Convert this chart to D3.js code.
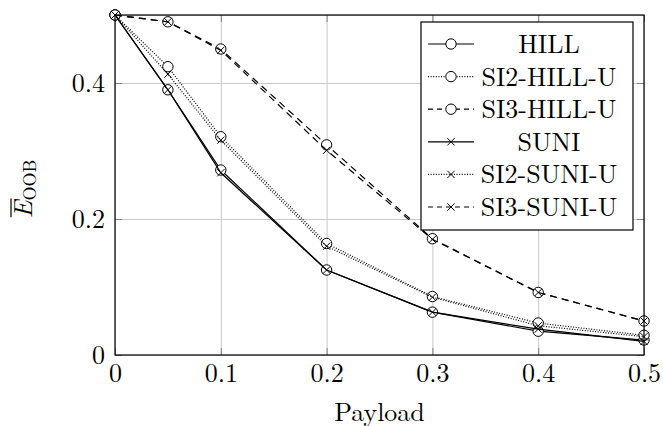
<!DOCTYPE html>
<html>
<head>
<meta charset="utf-8">
<script src="https://cdn.jsdelivr.net/npm/d3@7"></script>
</head>
<body style="margin:0;background:#fff">
<div id="chart"></div>
<script>
// data
var payload = [0, 0.05, 0.1, 0.2, 0.3, 0.4, 0.5];
var hill    = [0.5, 0.390, 0.272, 0.125, 0.063, 0.035, 0.022];
var si2Hill = [0.5, 0.424, 0.321, 0.164, 0.086, 0.047, 0.029];
var si3Hill = [0.5, 0.490, 0.450, 0.309, 0.171, 0.092, 0.050];
var suni    = [0.5, 0.390, 0.268, 0.125, 0.063, 0.038, 0.020];
var si2Suni = [0.5, 0.413, 0.316, 0.160, 0.085, 0.043, 0.027];
var si3Suni = [0.5, 0.490, 0.448, 0.301, 0.170, 0.092, 0.050];
var seriesNames = ['HILL', 'SI2-HILL-U', 'SI3-HILL-U', 'SUNI', 'SI2-SUNI-U', 'SI3-SUNI-U'];
var xTicks = [0, 0.1, 0.2, 0.3, 0.4, 0.5];
var yTicks = [0, 0.2, 0.4];

var width = 663, height = 426;
var margin = { top: 15, right: 19, bottom: 71, left: 115 };
var fontSize = 26;
var fontFamily = '"Latin Modern Roman", "Liberation Serif", serif';

var series = [hill, si2Hill, si3Hill, suni, si2Suni, si3Suni].map(function (vals, i) {
  return {
    name: seriesNames[i],
    mark: i < 3 ? 'circle' : 'cross',
    dash: ['none', '1,1.6', '7,5'][i % 3],
    values: vals.map(function (v, j) { return { x: payload[j], y: v }; })
  };
});

var svg = d3.select('#chart').append('svg')
  .attr('width', width)
  .attr('height', height)
  .style('display', 'block');

function serif(sel, size) {
  return sel.style('font-family', fontFamily).style('font-size', (size || fontSize) + 'px');
}

var x = d3.scaleLinear().domain([0, 0.5]).range([margin.left, width - margin.right]);
var y = d3.scaleLinear().domain([0, 0.5]).range([height - margin.bottom, margin.top]);
var x0 = x.range()[0], x1 = x.range()[1], y0 = y.range()[0], y1 = y.range()[1];

var fmt = function (d) { return d === 0 ? '0' : d3.format('.1f')(d); };

// grid
svg.append('g')
  .attr('transform', 'translate(0,' + y0 + ')')
  .call(d3.axisBottom(x).tickValues(xTicks).tickSize(-(y0 - y1)).tickFormat(''))
  .call(function (g) { g.select('.domain').remove(); })
  .selectAll('line').attr('stroke', '#c8c8c8').attr('stroke-width', 1);
svg.append('g')
  .attr('transform', 'translate(' + x0 + ',0)')
  .call(d3.axisLeft(y).tickValues(yTicks.concat([0.5])).tickSize(-(x1 - x0)).tickFormat(''))
  .call(function (g) { g.select('.domain').remove(); })
  .selectAll('line').attr('stroke', '#c8c8c8').attr('stroke-width', 1);

// inward tick marks on all four sides
var tickLen = 7;
[[d3.axisBottom(x).tickValues(xTicks), 'translate(0,' + y0 + ')'],
 [d3.axisTop(x).tickValues(xTicks), 'translate(0,' + y1 + ')'],
 [d3.axisLeft(y).tickValues(yTicks), 'translate(' + x0 + ',0)'],
 [d3.axisRight(y).tickValues(yTicks), 'translate(' + x1 + ',0)']].forEach(function (a) {
  svg.append('g')
    .attr('transform', a[1])
    .call(a[0].tickSize(-tickLen).tickFormat(''))
    .call(function (g) { g.select('.domain').remove(); })
    .selectAll('line').attr('stroke', '#808080').attr('stroke-width', 1);
});

// tick labels
var xAxis = svg.append('g')
  .attr('transform', 'translate(0,' + y0 + ')')
  .call(d3.axisBottom(x).tickValues(xTicks).tickSize(0).tickPadding(0).tickFormat(fmt));
xAxis.select('.domain').remove();
serif(xAxis.selectAll('text'))
  .attr('fill', '#000').attr('dy', null).attr('y', 27);

var yAxis = svg.append('g')
  .attr('transform', 'translate(' + x0 + ',0)')
  .call(d3.axisLeft(y).tickValues(yTicks).tickSize(0).tickPadding(10).tickFormat(fmt));
yAxis.select('.domain').remove();
serif(yAxis.selectAll('text'))
  .attr('fill', '#000').attr('dy', '0.33em');

// lines
var line = d3.line()
  .x(function (d) { return x(d.x); })
  .y(function (d) { return y(d.y); });

function drawMark(g, type, cx, cy) {
  if (type === 'circle') {
    g.append('circle')
      .attr('cx', cx).attr('cy', cy).attr('r', 5.2)
      .attr('fill', '#fff').attr('stroke', '#000').attr('stroke-width', 1);
  } else {
    var s = 3.6;
    g.append('path')
      .attr('d', 'M' + (cx - s) + ',' + (cy - s) + 'L' + (cx + s) + ',' + (cy + s) +
                 'M' + (cx - s) + ',' + (cy + s) + 'L' + (cx + s) + ',' + (cy - s))
      .attr('fill', 'none').attr('stroke', '#000').attr('stroke-width', 1);
  }
}

series.forEach(function (s) {
  var g = svg.append('g').attr('class', 'series');
  g.append('path')
    .datum(s.values)
    .attr('d', line)
    .attr('fill', 'none')
    .attr('stroke', '#000')
    .attr('stroke-width', 1.2)
    .attr('stroke-dasharray', s.dash);
  s.values.forEach(function (d) { drawMark(g, s.mark, x(d.x), y(d.y)); });
});

// frame
svg.append('rect')
  .attr('x', x0).attr('y', y1)
  .attr('width', x1 - x0).attr('height', y0 - y1)
  .attr('fill', 'none').attr('stroke', '#000').attr('stroke-width', 1.2);

// axis titles
serif(svg.append('text'))
  .attr('x', (x0 + x1) / 2).attr('y', 421)
  .attr('text-anchor', 'middle')
  .text('Payload');

var yTitle = svg.append('g')
  .attr('transform', 'translate(32,189) rotate(-90)');
var yText = serif(yTitle.append('text'))
  .attr('text-anchor', 'middle');
yText.append('tspan').style('font-style', 'italic').text('E');
yText.append('tspan').style('font-size', '18px').attr('dy', 4).text('OOB');
var eBox = yText.node().getExtentOfChar(0);
yTitle.append('line')
  .attr('x1', eBox.x + 1).attr('x2', eBox.x + eBox.width + 2)
  .attr('y1', -21).attr('y2', -21)
  .attr('stroke', '#000').attr('stroke-width', 1.2);

// legend
var legend = svg.append('g');
var lg = { left: 421, top: 22, right: 633, bottom: 230, rowTop: 44, rowStep: 32.6 };
legend.append('rect')
  .attr('x', lg.left).attr('y', lg.top)
  .attr('width', lg.right - lg.left).attr('height', lg.bottom - lg.top)
  .attr('fill', '#fff').attr('stroke', '#000').attr('stroke-width', 1.2);

series.forEach(function (s, i) {
  var cy = lg.rowTop + i * lg.rowStep;
  var row = legend.append('g');
  row.append('line')
    .attr('x1', 428).attr('x2', 474).attr('y1', cy).attr('y2', cy)
    .attr('stroke', '#000').attr('stroke-width', 1.2)
    .attr('stroke-dasharray', s.dash === '7,5' ? '5,4' : s.dash);
  drawMark(row, s.mark, 451, cy);
  serif(row.append('text'))
    .attr('x', 549).attr('y', cy + 9)
    .attr('text-anchor', 'middle')
    .text(s.name);
});
</script>
</body>
</html>
